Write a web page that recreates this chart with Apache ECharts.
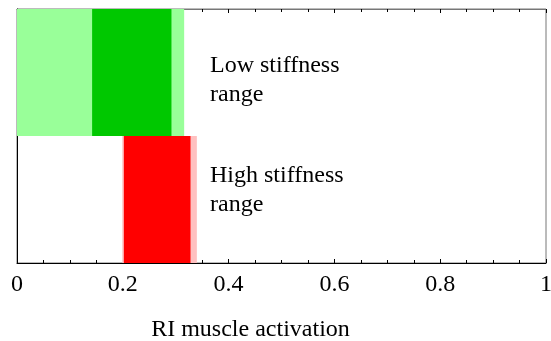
<!DOCTYPE html>
<html>
<head>
<meta charset="utf-8">
<script src="https://cdn.jsdelivr.net/npm/echarts@6/dist/echarts.min.js"></script>
<style>
  html, body { margin: 0; padding: 0; background: #fff; }
</style>
</head>
<body>
<div id="myChart" style="width: 551px; height: 341px;"></div>
<script>
  // rows, bottom to top
  const rows = ['High stiffness', 'Low stiffness'];
  // wide (light) range
  const lightStart = [0.199, 0];
  const lightEnd = [0.340, 0.316];
  // narrow (dark) range
  const darkStart = [0.202, 0.142];
  const darkEnd = [0.328, 0.292];
  const lightColors = ['#ffc0c0', '#99ff99'];
  const darkColors = ['#ff0000', '#00c800'];
  const xTicks = [0, 0.2, 0.4, 0.6, 0.8, 1];

  let myChart = echarts.init(document.getElementById('myChart'));

  const font = 'Liberation Serif';
  const axisCommon = {
    type: 'value',
    min: 0,
    max: 1,
    interval: 0.2,
    splitLine: { show: false },
    axisLine: { show: true, lineStyle: { color: '#000', width: 1 } },
    axisTick: { show: true, inside: true, length: 4, lineStyle: { color: '#000' } },
    minorTick: { show: true, splitNumber: 4, length: 3, lineStyle: { color: '#000' } },
    minorSplitLine: { show: false }
  };

  myChart.setOption({
    animation: false,
    grid: {
      left: 17,
      right: 5,
      top: 9,
      bottom: 78,
      outerBoundsMode: 'none',
      containLabel: false,
      show: true,
      borderColor: '#777',
      borderWidth: 1
    },
    xAxis: [
      Object.assign({}, axisCommon, {
        position: 'bottom',
        axisLabel: {
          color: '#000',
          fontFamily: font,
          fontSize: 24,
          margin: 10,
          formatter: function (v) {
            let t = xTicks.find(x => Math.abs(x - v) < 1e-9);
            return t === undefined ? '' : String(t);
          }
        },
        name: 'RI muscle activation',
        nameLocation: 'middle',
        nameGap: 55,
        nameTextStyle: {
          color: '#000',
          fontFamily: font,
          fontSize: 24,
          padding: [0, 62, 0, 0]
        }
      }),
      Object.assign({}, axisCommon, {
        position: 'top',
        axisLine: { show: true, lineStyle: { color: '#777', width: 1 } },
        axisLabel: { show: false }
      })
    ],
    yAxis: {
      type: 'category',
      data: rows,
      axisLine: { show: true, lineStyle: { color: '#000' } },
      axisTick: { show: false },
      axisLabel: { show: false },
      splitLine: { show: false }
    },
    series: [
      {
        type: 'bar',
        stack: 'light',
        silent: true,
        barCategoryGap: 0,
        itemStyle: { color: 'transparent' },
        data: lightStart
      },
      {
        type: 'bar',
        stack: 'light',
        barCategoryGap: 0,
        data: lightEnd.map((v, i) => ({
          value: v - lightStart[i],
          itemStyle: { color: lightColors[i] }
        }))
      },
      {
        type: 'bar',
        stack: 'dark',
        silent: true,
        barGap: '-100%',
        barCategoryGap: 0,
        itemStyle: { color: 'transparent' },
        data: darkStart
      },
      {
        type: 'bar',
        stack: 'dark',
        barGap: '-100%',
        barCategoryGap: 0,
        data: darkEnd.map((v, i) => ({
          value: v - darkStart[i],
          itemStyle: { color: darkColors[i] }
        }))
      }
    ],
    graphic: [
      {
        type: 'text',
        left: 210,
        top: 51,
        style: {
          text: 'Low stiffness\nrange',
          fontFamily: font,
          fontSize: 24,
          lineHeight: 29,
          fill: '#000'
        }
      },
      {
        type: 'text',
        left: 210,
        top: 161,
        style: {
          text: 'High stiffness\nrange',
          fontFamily: font,
          fontSize: 24,
          lineHeight: 29,
          fill: '#000'
        }
      }
    ]
  });
</script>
</body>
</html>
